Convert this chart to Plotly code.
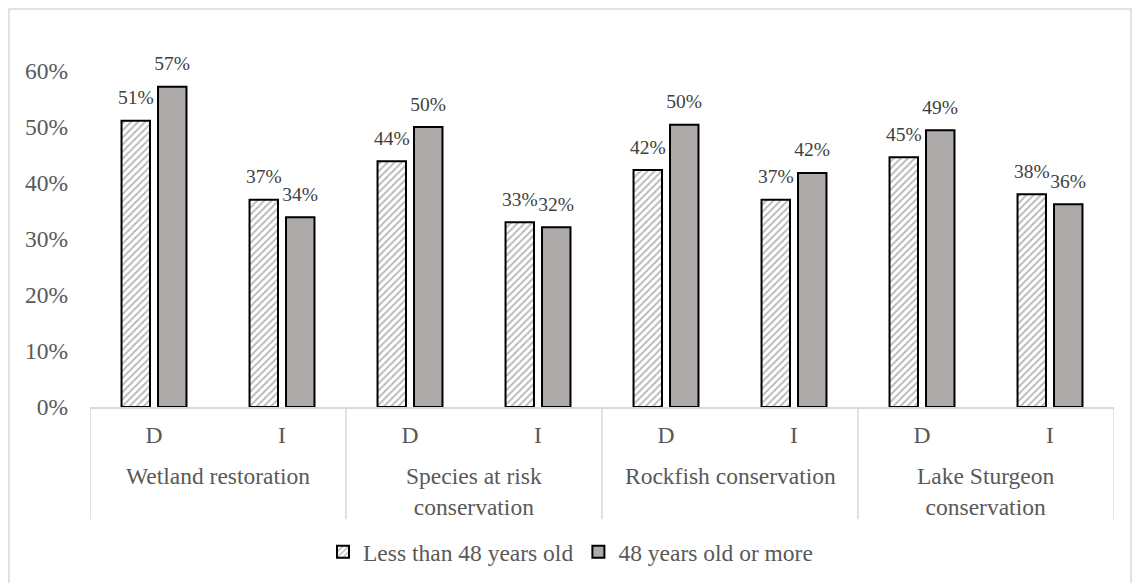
import plotly.graph_objects as go

# Program areas and support type (D / I) for each bar pair
programs = ["Wetland restoration", "Species at risk<br>conservation",
            "Rockfish conservation", "Lake Sturgeon<br>conservation"]
support_types = ["D", "I"]

# Share of respondents by age group, ordered program by program (D then I)
under_48 = [0.511, 0.370, 0.439, 0.330, 0.423, 0.370, 0.446, 0.380]
over_48 = [0.572, 0.339, 0.500, 0.321, 0.504, 0.418, 0.494, 0.362]

series_names = ["Less than 48 years old", "48 years old or more"]

# one unique category key per bar pair, shown on the axis as D / I
keys = [f"{p}|{t}" for p in programs for t in support_types]
inner = [t for _ in programs for t in support_types]

FONT = "Liberation Serif"
FS = 23.5
LABEL_FS = 19.5
TEXT_GREY = "#595959"
LABEL_GREY = "#404040"
LINE_GREY = "#d9d9d9"

W, H = 1134, 583
ml, mr, mt, mb = 90, 20, 71, 176
pw, ph = W - ml - mr, H - mt - mb


def py(px_from_top):
    """paper y coordinate for a pixel row of the page"""
    return (H - mb - px_from_top) / ph


fig = go.Figure()
fig.add_trace(go.Bar(
    x=keys, y=under_48, name=series_names[0], offsetgroup="a",
    marker=dict(color="white", line=dict(color="black", width=2),
                pattern=dict(shape="/", fgcolor="#6e6e6e", bgcolor="white",
                             size=5, solidity=0.35)),
))
fig.add_trace(go.Bar(
    x=keys, y=over_48, name=series_names[1], offsetgroup="b",
    marker=dict(color="#aeaaaa", line=dict(color="black", width=2)),
))

# value labels sitting above each bar
for vals, grp in ((under_48, "a"), (over_48, "b")):
    fig.add_trace(go.Scatter(
        x=keys, y=vals, offsetgroup=grp, mode="markers+text",
        marker=dict(size=17, color="rgba(0,0,0,0)"),
        texttemplate="%{y:.0%}", textposition="top center",
        textfont=dict(family=FONT, size=LABEL_FS, color=LABEL_GREY),
        showlegend=False, hoverinfo="skip", cliponaxis=False,
    ))

# program names centred under each D / I pair
for i, p in enumerate(programs):
    fig.add_annotation(
        x=2 * i + 0.5, xref="x", y=py(461), yref="paper", yanchor="top",
        text=p, showarrow=False, align="center",
        font=dict(family=FONT, size=FS, color=TEXT_GREY),
    )

# vertical separators between the program groups
for i in range(len(programs) + 1):
    fig.add_shape(type="line", xref="x", yref="paper",
                  x0=2 * i - 0.5, x1=2 * i - 0.5, y0=0, y1=py(519),
                  line=dict(color=LINE_GREY, width=1.5))

# light frame around the whole chart
fig.add_shape(type="rect", xref="paper", yref="paper",
              x0=(9 - ml) / pw, x1=(1131 - ml) / pw,
              y0=py(600), y1=py(9),
              line=dict(color=LINE_GREY, width=1.5), fillcolor="rgba(0,0,0,0)",
              layer="below")

fig.update_layout(
    width=W, height=H,
    margin=dict(l=ml, r=mr, t=mt, b=mb, autoexpand=False),
    paper_bgcolor="white", plot_bgcolor="white",
    barmode="group", bargap=0.43, bargroupgap=0.22,
    scattermode="group", scattergap=0.43,
    font=dict(family=FONT, size=FS, color=TEXT_GREY),
    showlegend=True,
    legend=dict(orientation="h", xref="container", x=323 / W, xanchor="left",
                yref="container", y=(H - 552) / H, yanchor="middle",
                font=dict(family=FONT, size=FS, color=TEXT_GREY),
                itemwidth=30, traceorder="normal"),
    xaxis=dict(type="category", range=[-0.5, len(keys) - 0.5],
               tickvals=keys, ticktext=inner, automargin=False,
               showline=True, linecolor=LINE_GREY, linewidth=1.5,
               showgrid=False, ticks="", ticklabelstandoff=6,
               tickfont=dict(family=FONT, size=FS, color=TEXT_GREY)),
    yaxis=dict(range=[0, 0.6], dtick=0.1, tickformat=".0%", showgrid=False,
               zeroline=False, showline=False, ticks="", ticklabelstandoff=21,
               automargin=False,
               tickfont=dict(family=FONT, size=FS, color=TEXT_GREY)),
)

fig.write_html("out.html")
